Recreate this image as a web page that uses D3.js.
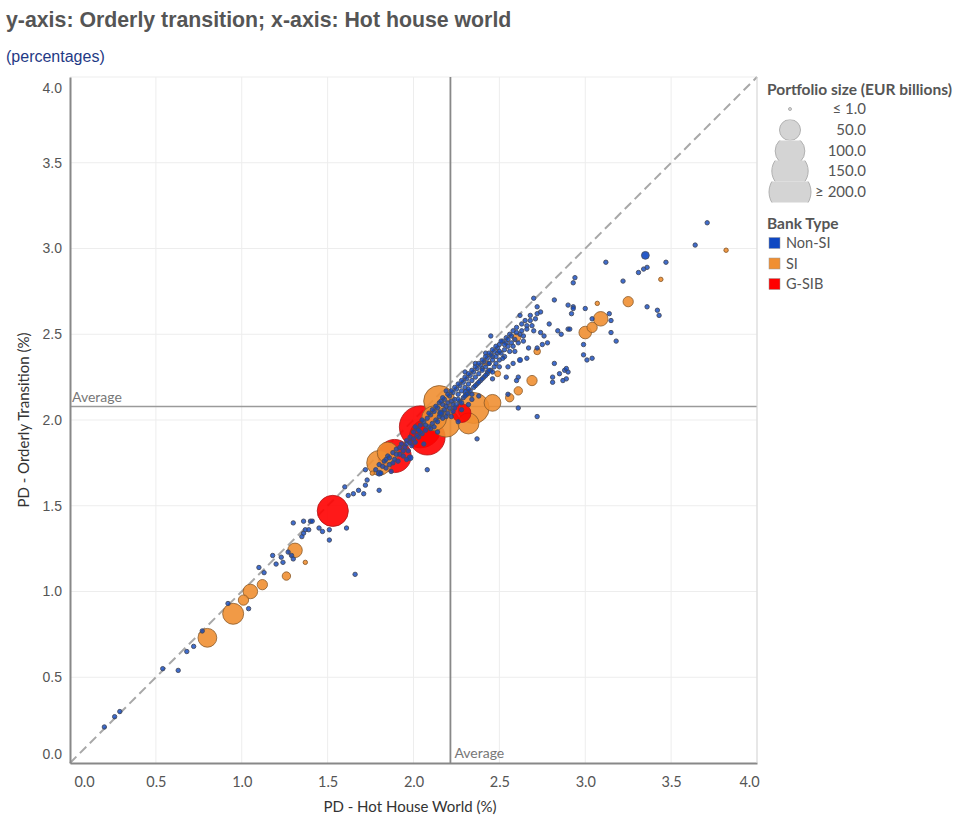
<!DOCTYPE html>
<html>
<head>
<meta charset="utf-8">
<script src="https://cdn.jsdelivr.net/npm/d3@7"></script>
<style>
  body { margin: 0; background: #fff; }
  svg text { font-family: "Lato", "Open Sans", sans-serif; }
</style>
</head>
<body>
<div id="chart"></div>
<script>
// values: [hot house PD, orderly PD, portfolio size]
const nonSI = [
  [0.20,0.21,1],[0.26,0.27,1],[0.29,0.30,1],[0.54,0.55,1],[0.63,0.54,1],[0.68,0.65,1],[0.72,0.68,1],
  [0.77,0.77,1],[0.92,0.93,1],[1.04,0.90,1],[1.10,1.14,1],[1.13,1.11,1],[1.20,1.16,1],[1.24,1.17,1],
  [1.18,1.21,1],[1.23,1.20,1],[1.27,1.23,1],[1.29,1.21,1],[1.30,1.19,1],[1.30,1.40,1],[1.36,1.41,1],
  [1.35,1.32,1],[1.36,1.34,1],[1.37,1.36,1],[1.39,1.36,1],[1.40,1.41,1],[1.41,1.41,1],[1.45,1.37,1],
  [1.47,1.35,1],[1.51,1.36,1],[1.51,1.30,1],[1.61,1.37,1],[1.66,1.10,1],[1.60,1.61,1],[1.62,1.56,1],
  [1.65,1.57,1],[1.68,1.59,1],[1.71,1.57,1],[1.72,1.62,1],[1.73,1.65,1],[1.72,1.71,1],[1.80,1.59,1],
  [2.93,2.80,1],[2.70,2.71,1],[2.72,2.66,1],[2.82,2.70,1],[2.72,2.62,1],[2.74,2.63,1],[2.68,2.58,1],
  [2.66,2.55,1],[2.62,2.61,1],[2.74,2.51,1],[2.70,2.52,1],[2.76,2.49,1],[2.79,2.56,1],[2.84,2.52,1],
  [2.86,2.50,1],[2.90,2.53,1],[2.92,2.62,1],[2.90,2.67,1],[2.78,2.45,1],[2.75,2.44,1],[2.72,2.42,1],
  [2.64,2.46,1],[2.67,2.42,1],[2.59,2.40,1],[2.58,2.33,1],[2.54,2.45,1],[2.53,2.37,1],[2.49,2.39,1],
  [2.50,2.35,1],[2.46,2.37,1],[2.44,2.33,1],[2.50,2.31,1],[2.55,2.31,1],[2.66,2.36,1],[2.82,2.33,1],
  [2.88,2.29,1],[2.90,2.28,1],[2.85,2.27,1],[2.81,2.25,1],[2.81,2.22,1],[2.87,2.23,1],[2.89,2.24,1],
  [2.61,2.25,1],[2.54,2.25,1],[2.60,2.23,1],[2.43,2.28,1],[2.40,2.30,1],[2.46,2.24,1],[2.55,2.15,1],
  [2.61,2.07,1],[2.72,2.02,1],[2.37,1.89,1],[2.08,1.71,1],[2.19,2.17,1],
  [3.71,3.15,1],[3.64,3.02,1],[3.47,2.92,1],[3.36,2.89,1],[3.34,2.88,1],[3.31,2.86,1],[3.22,2.81,1],
  [3.12,2.92,1],[2.94,2.83,1],[2.93,2.66,1],[2.93,2.65,1],[3.00,2.65,1],[3.14,2.62,1],[3.15,2.58,1],
  [3.04,2.59,1],[3.15,2.51,1],[3.18,2.46,1],[3.36,2.66,1],[3.42,2.64,1],[3.43,2.61,1],[2.91,2.53,1],
  [2.99,2.44,1],[2.99,2.38,1],[3.01,2.35,1],[3.04,2.36,1],[2.89,2.30,1],[2.45,2.49,1],
  [1.78,1.71,1],[1.80,1.74,1],[1.81,1.69,1],[1.83,1.76,1],[1.84,1.72,1],[1.85,1.79,1],[1.86,1.74,1],
  [1.87,1.70,1],[1.88,1.81,1],[1.89,1.77,1],[1.90,1.83,1],[1.91,1.76,1],[1.92,1.80,1],[1.93,1.86,1],
  [1.94,1.79,1],[1.95,1.84,1],[1.96,1.88,1],[1.97,1.82,1],[1.98,1.90,1],[1.99,1.85,1],[2.00,1.93,1],
  [2.01,1.87,1],[2.02,1.95,1],[2.03,1.90,1],[2.04,1.97,1],[2.05,1.92,1],[2.06,1.99,1],[2.07,1.94,1],
  [2.08,2.01,1],[2.09,1.96,1],[2.10,2.03,1],[2.11,1.98,1],[2.12,2.05,1],[2.13,2.00,1],[2.14,2.07,1],
  [2.15,2.02,1],[2.15,2.10,1],[2.16,2.04,1],[2.17,2.09,1],[2.18,2.06,1],[2.18,2.12,1],[2.19,2.02,1],
  [2.20,2.10,1],[2.21,2.07,1],[2.21,2.14,1],[2.22,2.11,1],[2.23,2.05,1],[2.23,2.16,1],[2.24,2.12,1],
  [2.25,2.18,1],[2.25,2.09,1],[2.26,2.15,1],[2.27,2.20,1],[2.27,2.11,1],[2.28,2.17,1],[2.29,2.22,1],
  [2.29,2.13,1],[2.30,2.19,1],[2.31,2.24,1],[2.31,2.15,1],[2.32,2.21,1],[2.33,2.26,1],[2.33,2.17,1],
  [2.34,2.23,1],[2.35,2.28,1],[2.35,2.19,1],[2.36,2.25,1],[2.37,2.30,1],[2.37,2.21,1],[2.38,2.27,1],
  [2.39,2.32,1],[2.39,2.23,1],[2.40,2.29,1],[2.41,2.34,1],[2.41,2.25,1],[2.42,2.31,1],[2.43,2.36,1],
  [2.43,2.27,1],[2.44,2.33,1],[2.45,2.38,1],[2.45,2.29,1],[2.46,2.35,1],[2.47,2.40,1],[2.47,2.31,1],
  [2.48,2.37,1],[2.49,2.42,1],[2.50,2.44,1],[2.51,2.39,1],[2.52,2.46,1],[2.53,2.41,1],[2.54,2.48,1],
  [2.55,2.43,1],[2.56,2.50,1],[2.57,2.45,1],[2.58,2.52,1],[2.59,2.47,1],[2.60,2.54,1],[2.62,2.50,1],
  [2.63,2.56,1],[2.65,2.58,1],[2.22,2.02,1],[2.28,2.06,1],[2.34,2.12,1],[2.38,2.14,1],[2.32,2.09,1],
  [2.26,1.99,1],[2.14,1.93,1],[2.06,1.86,1],[1.96,1.77,1],[2.30,2.28,1],[2.36,2.33,1],[2.42,2.39,1],
  [2.02,1.91,1],[2.04,1.93,1],[2.05,2.00,1],[2.07,1.97,1],[2.09,2.04,1],[2.10,1.95,1],[2.11,2.06,1],
  [2.12,1.96,1],[2.13,2.08,1],[2.14,1.99,1],[2.16,2.11,1],[2.17,2.01,1],[2.17,2.13,1],[2.19,2.08,1],
  [2.20,2.15,1],[2.20,2.04,1],[2.22,2.17,1],[2.23,2.09,1],[2.24,2.19,1],[2.24,2.07,1],[2.26,2.21,1],
  [2.26,2.12,1],[2.28,2.23,1],[2.28,2.10,1],[2.30,2.25,1],[2.30,2.14,1],[2.32,2.27,1],[2.32,2.18,1],
  [2.34,2.29,1],[2.34,2.15,1],[2.36,2.31,1],[2.36,2.20,1],[2.38,2.33,1],[2.38,2.22,1],[2.40,2.35,1],
  [2.40,2.24,1],[2.42,2.37,1],[2.42,2.26,1],[2.44,2.39,1],[2.44,2.29,1],[2.46,2.41,1],[2.46,2.28,1],
  [2.48,2.43,1],[2.48,2.33,1],[2.50,2.40,1],[2.51,2.46,1],[2.52,2.36,1],[2.53,2.44,1],[2.55,2.47,1],
  [2.56,2.40,1],[2.57,2.49,1],[2.58,2.43,1],[2.60,2.51,1],[2.61,2.45,1],[2.63,2.52,1],[2.64,2.49,1],
  [2.66,2.53,1],[2.68,2.61,1],[2.69,2.55,1],[2.71,2.59,1],[1.82,1.73,1],[1.84,1.77,1],[1.86,1.78,1],
  [1.88,1.75,1],[1.90,1.80,1],[1.92,1.84,1],[1.94,1.82,1],[1.96,1.86,1],[1.98,1.87,1],[2.00,1.89,1],
  [2.01,1.96,1],[2.03,1.94,1],
  [3.35,2.96,7],[2.16,2.04,5],[2.31,2.16,6],[1.98,1.78,4],[1.80,1.69,4],[2.62,2.35,3]
];
const si = [
  [0.80,0.73,40],[0.95,0.87,50],[1.01,0.95,12],[1.05,1.00,24],[1.12,1.04,12],[1.26,1.09,8],
  [1.31,1.24,24],[1.80,1.75,70],[1.85,1.81,50],[2.15,2.11,110],[2.19,1.98,85],[2.32,1.98,50],
  [2.35,2.07,110],[2.46,2.10,32],[2.56,2.13,8],[2.61,2.17,8],[2.69,2.23,12],[2.72,2.40,5],
  [2.60,2.48,8],[2.49,2.27,4],[2.42,2.33,3],[3.00,2.51,18],[3.04,2.54,12],[3.09,2.59,24],
  [3.25,2.69,12],[3.07,2.68,1],[3.82,2.99,1],[3.44,2.82,1],[1.37,1.17,1],[1.76,1.69,1],[2.12,2.01,70]
];
const gsib = [
  [1.53,1.47,110],[1.89,1.79,125],[2.04,1.96,200],[2.08,1.90,145],[2.28,2.04,40]
];

const xTicks = [0, 0.5, 1, 1.5, 2, 2.5, 3, 3.5, 4];
const yTicks = [0, 0.5, 1, 1.5, 2, 2.5, 3, 3.5, 4];
const avgX = 2.215, avgY = 2.078;
const sizeLegendValues = [1, 50, 100, 150, 200];
const sizeLegendLabels = ["\u2264 1.0", "50.0", "100.0", "150.0", "\u2265 200.0"];
const bankTypes = ["Non-SI", "SI", "G-SIB"];
const bankColors = ["#0e47c2", "#f08f32", "#ff0000"];
const bankStrokes = ["#454b5c", "#8a5a2a", "#b01818"];

const width = 971, height = 826;
const svg = d3.select("#chart").append("svg").attr("width", width).attr("height", height);

const x = d3.scaleLinear().domain([0, 4]).range([70, 757]);
const y = d3.scaleLinear().domain([0, 4]).range([763, 77]);
const size = d3.scaleSqrt().domain([0, 200]).range([0, 21]).clamp(true);
const radius = v => Math.max(2.2, size(v));

// title
svg.append("text").attr("x", 6).attr("y", 27)
  .style("font-family", "Liberation Sans, Arial, sans-serif")
  .style("font-weight", "bold").style("font-size", "21.3px").attr("fill", "#555")
  .text("y-axis: Orderly transition; x-axis: Hot house world");
svg.append("text").attr("x", 6).attr("y", 62)
  .style("font-family", "Liberation Sans, Arial, sans-serif")
  .style("font-size", "16px").attr("fill", "#1f3a85")
  .text("(percentages)");

// grid
const grid = svg.append("g");
grid.selectAll("line.gx").data(xTicks.slice(1)).enter().append("line")
  .attr("x1", d => x(d)).attr("x2", d => x(d)).attr("y1", y(0)).attr("y2", y(4))
  .attr("stroke", "#ededed").attr("stroke-width", 1);
grid.selectAll("line.gy").data(yTicks.slice(1)).enter().append("line")
  .attr("y1", d => y(d)).attr("y2", d => y(d)).attr("x1", x(0)).attr("x2", x(4))
  .attr("stroke", "#ededed").attr("stroke-width", 1);

// diagonal
svg.append("line").attr("x1", x(0)).attr("y1", y(0)).attr("x2", x(4)).attr("y2", y(4))
  .attr("stroke", "#a8a8a8").attr("stroke-width", 2).attr("stroke-dasharray", "9,5");

// average lines
svg.append("line").attr("x1", x(0)).attr("x2", x(4)).attr("y1", y(avgY)).attr("y2", y(avgY))
  .attr("stroke", "#9a9a9a").attr("stroke-width", 1.5);
svg.append("line").attr("x1", x(avgX)).attr("x2", x(avgX)).attr("y1", y(0)).attr("y2", y(4))
  .attr("stroke", "#888").attr("stroke-width", 1.8);
svg.append("text").attr("x", x(0) + 2).attr("y", y(avgY) - 5)
  .style("font-size", "14px").attr("fill", "#777").text("Average");
svg.append("text").attr("x", x(avgX) + 4).attr("y", y(0) - 5)
  .style("font-size", "14px").attr("fill", "#777").text("Average");

// points: biggest first so small dots sit on top
const points = [];
[nonSI, si, gsib].forEach((arr, i) => arr.forEach(d => points.push({ hx: d[0], ot: d[1], v: d[2], t: i })));
points.sort((a, b) => b.v - a.v);
svg.append("g").selectAll("circle").data(points).enter().append("circle")
  .attr("cx", d => x(d.hx)).attr("cy", d => y(d.ot)).attr("r", d => radius(d.v))
  .attr("fill", d => bankColors[d.t])
  .attr("fill-opacity", d => d.t === 0 && d.v <= 1 ? 0.8 : 0.9)
  .attr("stroke", d => bankStrokes[d.t]).attr("stroke-width", d => d.v <= 1 ? 0.9 : 0.8);

// axes
const xAxis = svg.append("g").attr("transform", `translate(0,${y(0)})`)
  .call(d3.axisBottom(x).tickValues(xTicks).tickFormat(d3.format(".1f")).tickSize(0).tickPadding(14));
xAxis.select(".domain").attr("stroke", "#888").attr("stroke-width", 2);
xAxis.selectAll("text").style("font-size", "14.5px").attr("fill", "#555")
  .attr("dx", d => d === 0 ? 14 : d === 4 ? -8 : 0);

const yAxis = svg.append("g").attr("transform", `translate(${x(0)},0)`)
  .call(d3.axisLeft(y).tickValues(yTicks).tickFormat(d3.format(".1f")).tickSize(0).tickPadding(8));
yAxis.select(".domain").attr("stroke", "#888").attr("stroke-width", 2);
yAxis.selectAll("text").style("font-family", "Liberation Sans, Arial, sans-serif")
  .style("font-size", "14px").attr("fill", "#555")
  .attr("dy", d => d === 0 ? "-0.3em" : d === 4 ? "1.1em" : "0.32em");

// light frame right
svg.append("line").attr("x1", x(4)).attr("x2", x(4)).attr("y1", y(0)).attr("y2", y(4)).attr("stroke", "#d8d8d8");

svg.append("text").attr("x", 410).attr("y", 812).attr("text-anchor", "middle")
  .style("font-size", "15px").attr("fill", "#333").text("PD - Hot House World (%)");
svg.append("text").attr("transform", "translate(29,420) rotate(-90)").attr("text-anchor", "middle")
  .style("font-size", "15px").attr("fill", "#333").text("PD - Orderly Transition (%)");

// size legend
const leg = svg.append("g");
leg.append("text").attr("x", 767).attr("y", 95).style("font-size", "15.5px")
  .style("font-weight", "bold").attr("fill", "#555").text("Portfolio size (EUR billions)");
const rowY = [109, 130, 151, 171, 192];
const defs = svg.append("defs");
sizeLegendValues.forEach((v, i) => {
  defs.append("clipPath").attr("id", "row" + i).append("rect")
    .attr("x", 760).attr("y", rowY[i] - 10.5).attr("width", 80).attr("height", 21);
  leg.append("circle").attr("cx", 790).attr("cy", rowY[i]).attr("r", i === 0 ? 1.5 : size(v))
    .attr("clip-path", `url(#row${i})`)
    .attr("fill", "#d4d4d4").attr("stroke", "#b0b0b0").attr("stroke-width", 1);
  leg.append("text").attr("x", 866).attr("y", rowY[i] + 5).attr("text-anchor", "end")
    .style("font-size", "15px").attr("fill", "#555").text(sizeLegendLabels[i]);
});

// bank type legend
leg.append("text").attr("x", 767).attr("y", 229).style("font-size", "15.5px")
  .style("font-weight", "bold").attr("fill", "#555").text("Bank Type");
bankTypes.forEach((t, i) => {
  const cy = 243 + i * 20.5;
  leg.append("rect").attr("x", 769).attr("y", cy - 5.5).attr("width", 11).attr("height", 11)
    .attr("fill", bankColors[i]).attr("stroke", "#999").attr("stroke-width", 0.5);
  leg.append("text").attr("x", 786).attr("y", cy + 5).style("font-size", "14.5px")
    .attr("fill", "#555").text(t);
});
</script>
</body>
</html>
